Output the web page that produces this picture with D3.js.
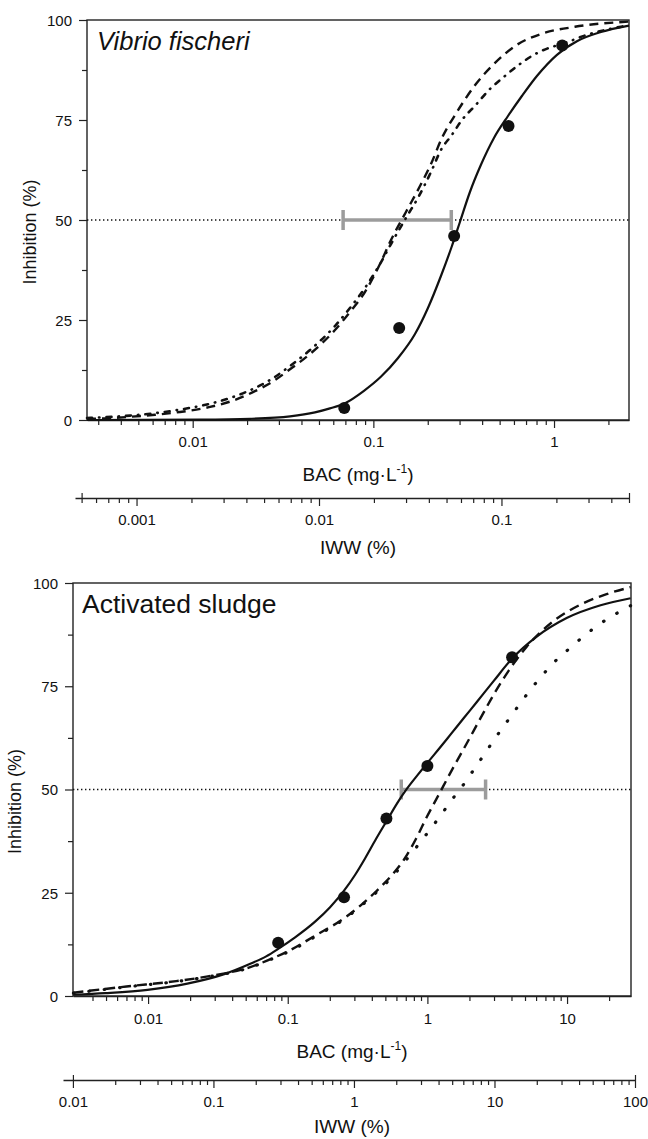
<!DOCTYPE html>
<html>
<head>
<meta charset="utf-8">
<script src="https://cdn.jsdelivr.net/npm/d3@7"></script>
<style>
body { margin: 0; background: #fff; }
text { font-family: "Liberation Sans", Arial, sans-serif; fill: #111; }
</style>
</head>
<body>
<script>
// values, [BAC (mg/L), inhibition (%)]
var yTicks = [0, 25, 50, 75, 100];

// Vibrio fischeri
var vfBacDomain = [0.0026, 2.6];
var vfIwwDomain = [0.00046, 0.5];
var vfPoints = [[0.069, 3.0], [0.139, 23.0], [0.28, 46.0], [0.56, 73.5], [1.11, 93.6]];
var vfBar = [0.068, 0.27];
var vfSolid = [[0.0026, 0], [0.011, 0.1], [0.0208, 0.3], [0.0346, 0.9], [0.0475, 1.9],
  [0.0575, 2.9], [0.0697, 4.2], [0.0887, 7.3], [0.110, 10.8], [0.137, 15.5], [0.170, 21.5],
  [0.2005, 28], [0.2366, 36], [0.2722, 43.5], [0.3014, 49.5], [0.3424, 57], [0.394, 63.8],
  [0.465, 70.5], [0.556, 76], [0.664, 81], [0.804, 86], [1.038, 91.3], [1.339, 94.7],
  [1.818, 97], [2.6, 98.6]];
var vfDash = [[0.0026, 0.3], [0.00327, 0.4], [0.0045, 0.8], [0.00618, 1.3], [0.0085, 2.0],
  [0.0123, 3.2], [0.0161, 4.6], [0.0221, 7.2], [0.0275, 9.5], [0.0341, 12.5], [0.0446, 16.5],
  [0.0613, 22.5], [0.0742, 27], [0.0898, 32], [0.1088, 39], [0.1252, 45], [0.1515, 52],
  [0.1788, 58], [0.2084, 64], [0.2396, 70.5], [0.2902, 77], [0.3696, 84], [0.4649, 89],
  [0.6232, 93.8], [0.846, 96.5], [1.305, 98.3], [2.6, 99.6]];
var vfDashDot = [[0.0026, 0.5], [0.00327, 0.7], [0.0045, 1.1], [0.00618, 1.7], [0.0085, 2.6],
  [0.0123, 4.0], [0.0161, 5.5], [0.0221, 8.0], [0.0275, 10.3], [0.0341, 13.3], [0.0446, 17.5],
  [0.0613, 23.5], [0.0742, 28], [0.0898, 33], [0.1088, 39], [0.1252, 44], [0.1515, 50.5],
  [0.1788, 56], [0.2084, 62], [0.2366, 67.5], [0.2722, 71.3], [0.3093, 75], [0.3696, 78.8],
  [0.4362, 82.5], [0.5282, 85.8], [0.6393, 88.8], [0.774, 91.3], [0.961, 93.2], [1.11, 94.0],
  [1.5, 96.2], [2.6, 98.7]];

// Activated sludge
var asBacDomain = [0.0029, 28.7];
var asIwwDomain = [0.0085, 100];
var asPoints = [[0.0854, 12.9], [0.253, 23.9], [0.509, 43.0], [1.0, 55.7], [4.04, 82.0]];
var asBar = [0.65, 2.61];
var asSolid = [[0.00292, 0.3], [0.00495, 0.7], [0.0099, 1.5], [0.0191, 3.0], [0.0351, 5.3],
  [0.0539, 7.8], [0.0701, 9.6], [0.0854, 11.4], [0.1129, 14.2], [0.157, 18], [0.201, 21.5],
  [0.253, 25.5], [0.3032, 29.3], [0.3576, 33.3], [0.4284, 38], [0.5134, 42.5], [0.6053, 46.6],
  [0.7139, 50.2], [0.8552, 53.6], [1.008, 56.6], [1.228, 60.1], [1.472, 63.4], [1.823, 67.3],
  [2.259, 71.2], [2.987, 76.3], [4.018, 81.6], [6.063, 87.0], [9.93, 91.5], [17.38, 94.6],
  [28.5, 96.3]];
var asDash = [[0.00292, 0.8], [0.007, 2.3], [0.0159, 3.6], [0.0274, 4.8], [0.0539, 7],
  [0.0799, 9.3], [0.104, 11.1], [0.157, 14.6], [0.253, 18.8], [0.3347, 22], [0.4284, 25.3],
  [0.5575, 29.3], [0.6792, 33], [0.8274, 38], [0.992, 43.4], [1.208, 48.8], [1.497, 54.7],
  [1.916, 61.2], [2.412, 67.4], [2.987, 73], [3.824, 78.8], [5.143, 84.6], [8.02, 90.8],
  [12.51, 94.8], [19.19, 97.3], [28.5, 99]];
var asDot = [[0.00292, 0.7], [0.007, 2.2], [0.0159, 3.5], [0.0274, 4.7], [0.0539, 6.9],
  [0.0799, 9.2], [0.104, 10.9], [0.157, 14.4], [0.253, 18.6], [0.3347, 21.8], [0.4284, 25],
  [0.5575, 28.8], [0.6792, 32.3], [0.8692, 36.8], [1.249, 43.8], [1.497, 47.5], [1.823, 51.3],
  [2.149, 54.8], [2.576, 58.7], [3.038, 62.3], [3.64, 66], [4.363, 69.7], [5.229, 73.3],
  [6.477, 77.2], [8.02, 80.7], [10.61, 84.4], [13.58, 87.5], [17.38, 90.2], [22.24, 92.5],
  [28.5, 94.5]];

var svg = d3.select("body").append("svg")
    .attr("width", 648)
    .attr("height", 1139);

var fmt = d3.format("~g");
function isMajor(d) {
  var l = Math.log10(d);
  return Math.abs(l - Math.round(l)) < 1e-6;
}

function logAxis(g, x, yPos, labelY, cross) {
  var r = x.range();
  var vals = x.ticks().filter(function(d) { return x(d) - r[0] >= 6; });
  var ax = g.append("g")
      .attr("transform", "translate(0," + yPos + ")")
      .call(d3.axisBottom(x).tickValues(vals).tickSize(8).tickSizeOuter(0)
        .tickFormat(function(d) { return isMajor(d) ? fmt(d) : ""; }));
  ax.select(".domain").attr("stroke", "#222").attr("stroke-width", 1.4);
  ax.selectAll(".tick line")
      .attr("stroke", "#222").attr("stroke-width", 1.2)
      .attr("y2", function(d) { return isMajor(d) ? 8 : 5; });
  if (cross) {
    ax.selectAll(".tick line")
        .filter(function(d, i) { return i == 0 || i == vals.length - 1; })
        .attr("y1", -5);
  }
  ax.selectAll(".tick text")
      .attr("y", labelY).attr("dy", 0)
      .style("font-size", "15px").style("fill", "#111")
      .style("font-family", "Liberation Sans, Arial, sans-serif");
  return ax;
}

function panel(p) {
  var g = svg.append("g");
  var x = d3.scaleLog().domain(p.bacDomain).range([p.left, p.right]);
  var y = d3.scaleLinear().domain([0, 100]).range([p.bottom, p.top]);
  var xi = d3.scaleLog().domain(p.iwwDomain).range(p.iwwRange);

  // y axis
  var yVals = [0, 12.5, 25, 37.5, 50, 62.5, 75, 87.5, 100];
  var ay = g.append("g")
      .attr("transform", "translate(" + p.left + ",0)")
      .call(d3.axisLeft(y).tickValues(yVals).tickSize(8).tickSizeOuter(0)
        .tickFormat(function(d) { return yTicks.indexOf(d) >= 0 ? d : ""; }));
  ay.select(".domain").remove();
  ay.selectAll(".tick line")
      .attr("stroke", "#222").attr("stroke-width", 1.2)
      .attr("x2", function(d) { return yTicks.indexOf(d) >= 0 ? -8 : -5; });
  ay.selectAll(".tick text")
      .attr("x", -15).attr("dy", "0.35em")
      .style("font-size", "15px").style("fill", "#111")
      .style("font-family", "Liberation Sans, Arial, sans-serif");

  // bac and iww axes
  logAxis(g, x, p.bottom, p.bacLabelY, false);
  logAxis(g, xi, p.iwwY, p.iwwLabelY, true);

  // frame
  g.append("rect")
      .attr("x", p.left).attr("y", p.top)
      .attr("width", p.right - p.left).attr("height", p.bottom - p.top)
      .attr("fill", "none").attr("stroke", "#222").attr("stroke-width", 1.4);

  // 50% line
  g.append("line")
      .attr("x1", p.left).attr("x2", p.right)
      .attr("y1", y(50)).attr("y2", y(50))
      .attr("stroke", "#111").attr("stroke-width", 1.3)
      .attr("stroke-dasharray", "1.4,2.6");

  // titles
  var bt = g.append("text")
      .attr("x", (p.left + p.right) / 2).attr("y", p.bacTitleY)
      .attr("text-anchor", "middle").style("font-size", "19px");
  bt.append("tspan").text("BAC (mg\u00b7L");
  bt.append("tspan").attr("dy", -8).style("font-size", "12px").text("-1");
  bt.append("tspan").attr("dy", 8).text(")");

  g.append("text")
      .attr("x", (p.left + p.right) / 2).attr("y", p.iwwTitleY)
      .attr("text-anchor", "middle").style("font-size", "19px")
      .text("IWW (%)");

  g.append("text")
      .attr("transform", "translate(" + p.yTitleX + "," + ((p.top + p.bottom) / 2 + 12) + ") rotate(-90)")
      .attr("text-anchor", "middle").style("font-size", "18px")
      .text("Inhibition (%)");

  g.append("text")
      .attr("x", p.nameX).attr("y", p.nameY)
      .style("font-size", p.nameSize + "px")
      .style("font-style", p.italic ? "italic" : "normal")
      .text(p.name);

  // error bar
  var eb = g.append("g").attr("stroke", "#9c9c9c").attr("stroke-width", 3.5);
  eb.append("line")
      .attr("x1", x(p.bar[0])).attr("x2", x(p.bar[1]))
      .attr("y1", y(50)).attr("y2", y(50));
  eb.selectAll(".cap")
      .data(p.bar)
    .enter().append("line")
      .attr("x1", function(d) { return x(d); }).attr("x2", function(d) { return x(d); })
      .attr("y1", y(50) - 10).attr("y2", y(50) + 10);

  // curves
  var line = d3.line()
      .x(function(d) { return x(d[0]); })
      .y(function(d) { return y(d[1]); })
      .curve(d3.curveMonotoneX);

  g.selectAll(".curve")
      .data(p.curves)
    .enter().append("path")
      .attr("d", function(d) { return line(d.values); })
      .attr("fill", "none")
      .attr("stroke", "#111")
      .attr("stroke-width", function(d) { return d.width; })
      .attr("stroke-linecap", function(d) { return d.cap; })
      .attr("stroke-dasharray", function(d) { return d.dash; });

  g.selectAll(".pt")
      .data(p.points)
    .enter().append("circle")
      .attr("cx", function(d) { return x(d[0]); })
      .attr("cy", function(d) { return y(d[1]); })
      .attr("r", 6)
      .attr("fill", "#111");
}

panel({
  left: 87, right: 629, top: 20, bottom: 420,
  bacDomain: vfBacDomain, iwwDomain: vfIwwDomain, iwwRange: [75, 629],
  bacLabelY: 27, bacTitleY: 481, iwwY: 498, iwwLabelY: 27, iwwTitleY: 554,
  yTitleX: 36, name: "Vibrio fischeri", italic: true, nameX: 97, nameY: 50, nameSize: 25.5,
  bar: vfBar, points: vfPoints,
  curves: [
    {values: vfSolid, width: 2.2, cap: "butt", dash: null},
    {values: vfDash, width: 2.4, cap: "butt", dash: "9,6"},
    {values: vfDashDot, width: 2.6, cap: "round", dash: "5,7,0.5,7"}
  ]
});

panel({
  left: 73, right: 631, top: 583, bottom: 996,
  bacDomain: asBacDomain, iwwDomain: asIwwDomain, iwwRange: [63, 635],
  bacLabelY: 28, bacTitleY: 1058, iwwY: 1080, iwwLabelY: 27, iwwTitleY: 1133,
  yTitleX: 21, name: "Activated sludge", italic: false, nameX: 82, nameY: 613, nameSize: 26.5,
  bar: asBar, points: asPoints,
  curves: [
    {values: asSolid, width: 2.2, cap: "butt", dash: null},
    {values: asDash, width: 2.4, cap: "butt", dash: "10,6"},
    {values: asDot, width: 3.2, cap: "round", dash: "0.5,15"}
  ]
});
</script>
</body>
</html>
